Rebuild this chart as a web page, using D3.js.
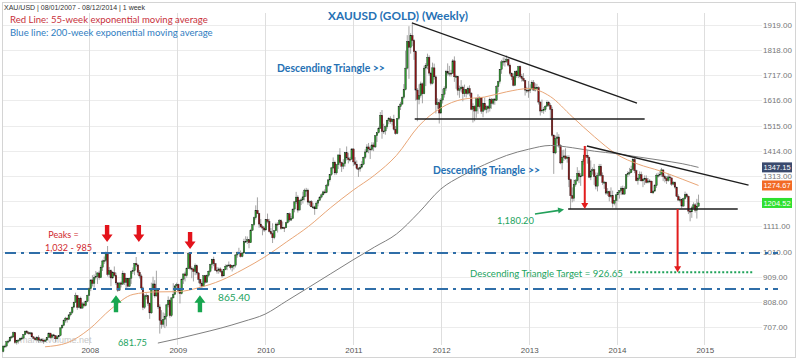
<!DOCTYPE html>
<html><head><meta charset="utf-8">
<script src="https://cdn.jsdelivr.net/npm/d3@7"></script>
<style>body{margin:0;background:#fff}svg{display:block}</style>
</head><body><svg id="c" width="800" height="360"></svg>
<script>
// ---------------- DATA ----------------
const firstWeekStart = "2007-01-08";
const firstOpen = 609;
const close2007=[631,631,648,651,666,668,685,645,652,655,662,663,677,691,685,681,684,668,662,656,665,655,656,655,650,655,666,683,665,676,673,660,668,673,704,714,733,743,738,756,765,787,806,833,786,823,783,800,793,810,834];
const high2007=[633,637,652,657,668,673,689,687,656,658,665,669,679,692,695,690,688,687,670,667,669,674,661,662,657,659,667,685,684,679,680,675,670,675,705,718,738,748,746,758,769,789,809,845,835,825,829,807,809,813,837];
const low2007=[606,624,626,642,649,660,664,640,637,641,650,655,660,675,680,677,675,664,660,652,651,644,645,649,640,647,652,664,660,661,664,648,658,662,670,700,711,725,725,735,750,760,783,805,776,783,780,782,787,790,808];
const close2008=[861,896,882,906,910,924,905,947,972,974,1001,918,933,904,925,914,884,855,884,879,922,886,902,871,903,930,933,962,956,927,912,864,786,832,833,802,764,863,880,832,859,788,734,718,738,750,796,814,753,824,838,872];
const high2008=[866,898,915,918,932,927,933,955,977,990,1010,1032,948,938,932,950,925,888,886,890,933,925,905,903,905,935,946,964,988,960,936,919,869,838,842,836,806,885,909,895,933,862,798,775,766,762,800,830,820,827,883,875];
const low2008=[833,851,870,865,898,880,897,903,932,960,967,910,905,871,900,909,876,848,852,866,876,876,864,866,868,880,920,915,948,915,902,860,775,780,818,792,740,760,857,825,829,780,681,701,708,703,710,786,745,748,822,836];
const close2009=[878,854,841,899,920,913,942,1002,942,940,930,953,924,898,883,871,913,887,914,931,958,979,961,935,933,940,930,912,937,951,954,956,946,953,955,996,1006,1003,990,1004,1049,1051,1057,1045,1095,1118,1145,1175,1162,1120,1109,1104];
const high2009=[885,881,860,902,922,929,946,1007,1005,950,946,962,958,928,900,890,914,916,918,934,961,981,989,964,948,946,946,935,940,958,959,970,960,955,958,1000,1010,1025,1014,1008,1061,1071,1070,1060,1101,1119,1150,1195,1227,1165,1140,1115];
const low2009=[859,842,802,838,880,890,905,940,935,903,890,915,917,883,869,865,868,881,884,907,926,942,951,932,921,921,925,905,912,935,935,951,938,930,938,946,985,1000,986,987,1001,1045,1040,1023,1044,1093,1113,1138,1160,1105,1105,1075];
const close2010=[1096,1138,1131,1090,1082,1065,1093,1120,1118,1134,1102,1106,1105,1125,1161,1136,1142,1180,1209,1228,1176,1214,1217,1229,1256,1256,1208,1210,1189,1189,1181,1204,1215,1228,1237,1249,1246,1275,1297,1318,1345,1368,1325,1358,1397,1367,1352,1362,1406,1385,1378,1380,1421];
const high2010=[1110,1140,1162,1141,1104,1123,1095,1126,1127,1140,1139,1130,1109,1129,1163,1166,1153,1182,1211,1249,1235,1218,1225,1250,1262,1265,1262,1214,1216,1205,1194,1211,1219,1232,1243,1254,1259,1281,1300,1320,1349,1387,1374,1360,1398,1424,1370,1380,1409,1431,1406,1389,1424];
const low2010=[1088,1096,1123,1086,1077,1044,1059,1092,1086,1118,1097,1100,1088,1104,1122,1128,1132,1140,1167,1201,1166,1176,1196,1202,1215,1230,1197,1192,1187,1181,1157,1180,1191,1213,1223,1235,1240,1244,1270,1290,1313,1340,1316,1318,1341,1355,1329,1340,1350,1375,1363,1370,1378];
const close2011=[1369,1360,1343,1341,1348,1360,1388,1409,1429,1421,1418,1437,1429,1474,1486,1504,1556,1491,1493,1510,1536,1542,1530,1540,1500,1483,1543,1591,1601,1628,1659,1745,1852,1828,1876,1856,1811,1657,1620,1635,1682,1642,1745,1755,1788,1725,1684,1746,1710,1598,1606,1565];
const high2011=[1424,1388,1375,1348,1361,1372,1390,1420,1440,1445,1435,1448,1447,1477,1488,1510,1569,1577,1522,1515,1538,1549,1552,1543,1558,1513,1545,1594,1610,1632,1681,1815,1877,1913,1885,1921,1862,1815,1665,1680,1691,1687,1755,1765,1803,1796,1730,1767,1763,1716,1624,1620];
const low2011=[1352,1355,1338,1309,1330,1344,1356,1381,1405,1404,1381,1413,1412,1425,1449,1483,1502,1462,1481,1478,1502,1520,1522,1515,1495,1478,1480,1537,1577,1597,1622,1656,1740,1702,1803,1833,1778,1615,1532,1600,1627,1604,1640,1673,1740,1714,1676,1680,1699,1563,1582,1523];
const close2012=[1617,1640,1664,1732,1725,1725,1724,1774,1710,1712,1656,1662,1669,1642,1659,1643,1663,1645,1580,1592,1573,1622,1590,1627,1572,1604,1579,1590,1584,1619,1604,1621,1616,1671,1691,1740,1770,1773,1772,1780,1757,1724,1711,1676,1731,1714,1751,1711,1704,1696,1657,1657];
const high2012=[1625,1662,1672,1738,1764,1754,1738,1781,1792,1718,1714,1675,1697,1675,1679,1660,1671,1676,1648,1604,1596,1627,1640,1632,1628,1606,1627,1596,1597,1627,1625,1623,1625,1676,1694,1741,1778,1788,1788,1796,1786,1763,1728,1724,1735,1737,1754,1755,1722,1725,1698,1670];
const low2012=[1562,1603,1627,1654,1715,1712,1711,1722,1690,1662,1636,1626,1648,1612,1630,1627,1638,1632,1576,1527,1532,1546,1562,1583,1562,1548,1573,1564,1567,1571,1582,1597,1598,1613,1649,1683,1722,1755,1751,1766,1751,1717,1697,1672,1673,1706,1705,1704,1691,1690,1635,1645];
const close2013=[1656,1662,1687,1657,1667,1667,1609,1573,1577,1578,1592,1608,1596,1580,1476,1405,1463,1469,1434,1365,1387,1393,1383,1388,1298,1234,1223,1278,1294,1323,1310,1313,1372,1395,1396,1387,1308,1333,1338,1310,1272,1315,1352,1315,1287,1288,1244,1250,1230,1235,1203,1214];
const high2013=[1693,1680,1696,1697,1684,1682,1672,1612,1619,1589,1597,1616,1613,1604,1590,1480,1475,1488,1480,1440,1416,1418,1424,1395,1396,1302,1267,1298,1300,1348,1335,1324,1380,1399,1433,1415,1390,1375,1347,1361,1327,1326,1361,1361,1327,1293,1290,1264,1254,1267,1254,1217];
const low2013=[1626,1645,1660,1654,1651,1661,1599,1555,1565,1562,1570,1591,1590,1539,1470,1321,1400,1443,1426,1360,1338,1373,1378,1366,1268,1180,1207,1211,1270,1290,1284,1273,1311,1356,1385,1362,1304,1296,1318,1277,1259,1251,1312,1310,1277,1261,1237,1233,1211,1224,1186,1195];
const close2014=[1237,1247,1254,1264,1240,1262,1318,1323,1326,1339,1379,1334,1294,1303,1318,1293,1300,1302,1287,1293,1292,1245,1252,1274,1316,1316,1320,1337,1310,1303,1294,1309,1305,1280,1287,1268,1231,1216,1218,1192,1222,1238,1231,1172,1169,1185,1197,1175,1191,1204.52];
const high2014=[1240,1249,1256,1272,1274,1271,1320,1332,1345,1354,1385,1392,1338,1309,1331,1330,1305,1315,1315,1305,1300,1294,1255,1280,1323,1326,1332,1345,1338,1318,1312,1322,1320,1306,1292,1291,1270,1239,1228,1222,1226,1250,1245,1234,1176,1193,1207,1204,1221,1238];
const low2014=[1182,1211,1222,1236,1238,1238,1260,1308,1315,1325,1335,1324,1291,1278,1293,1291,1268,1277,1283,1283,1284,1244,1240,1250,1265,1306,1310,1309,1292,1287,1281,1289,1293,1273,1275,1262,1228,1214,1207,1183,1190,1218,1225,1160,1131,1145,1180,1166,1142,1190];

const ema55Dates=["2007-07-01","2007-10-01","2008-01-01","2008-04-01","2008-07-01","2008-10-01","2009-01-01","2009-04-01","2009-07-01","2009-10-01","2010-01-01","2010-04-01","2010-07-01","2010-10-01","2011-01-01","2011-04-01","2011-07-01","2011-10-01","2012-01-01","2012-04-01","2012-07-01","2012-10-01","2013-01-01","2013-04-01","2013-07-01","2013-10-01","2014-01-01","2014-04-01","2014-07-01","2014-10-01","2014-12-08"];
const ema55Values=[628,644,699,780,838,848,849,865,894,938,989,1049,1111,1186,1255,1316,1395,1512,1585,1620,1629,1650,1663,1631,1550,1470,1400,1360,1333,1300,1274.67];
const ema200Dates=["2008-10-12","2009-01-01","2009-04-01","2009-07-01","2009-10-01","2010-01-01","2010-04-01","2010-07-01","2010-10-01","2011-01-01","2011-04-01","2011-07-01","2011-10-01","2012-01-01","2012-04-01","2012-07-01","2012-10-01","2013-01-01","2013-04-01","2013-07-01","2013-10-01","2014-01-01","2014-04-01","2014-07-01","2014-10-01","2014-12-08"];
const ema200Values=[643,660,681,703,729,759,812,866,921,976,1028,1080,1165,1260,1315,1358,1395,1420,1435,1426,1412,1402,1389,1376,1362,1347.15];

const yTickValues=[707,808,909,1010,1111,1212,1313,1414,1515,1616,1717,1818,1919];
const xTickYears=[2008,2009,2010,2011,2012,2013,2014,2015];
const markerValues=[1347.15,1274.67,1204.52];
const markerColors=["#3a4a6e","#f26a25","#2fe02f"];

// annotations (date, price)
const triangle1Top=[["2011-09-03",1926],["2014-03-27",1605]];
const triangle1Base=[["2011-09-15",1541],["2014-04-28",1541]];
const triangle2Top=[["2013-08-31",1433],["2015-07-04",1276]];
const triangle2Base=[["2013-06-14",1180.2],["2015-05-20",1180.2]];
const levelLines=[1004,860];
const targetLine=[["2014-02-27",926.65],["2015-07-26",926.65]];
const peakArrows=[["2008-03-15",1048],["2008-07-25",1048],["2009-02-23",1020]];
const supportArrows=[["2008-04-21",835],["2009-04-05",835]];
const dropArrows=[["2013-08-22",1433,1180.2],["2014-09-12",1180.2,926.65]];
const pointerArrow=[["2013-01-27",1160],["2013-05-28",1178]];

// ---------------- CHART ----------------
const svg=d3.select("#c");
const parse=d3.utcParse("%Y-%m-%d");
const plotL=3, plotR=762, plotT=13, plotB=345;
const x=d3.scaleUtc().domain([Date.UTC(2008,0,1),Date.UTC(2015,0,1)]).range([89.3,704.3]);
const y=d3.scaleLinear().domain([707,1919]).range([327.1,24.7]);

const closes=[].concat(close2007,close2008,close2009,close2010,close2011,close2012,close2013,close2014);
const highs=[].concat(high2007,high2008,high2009,high2010,high2011,high2012,high2013,high2014);
const lows=[].concat(low2007,low2008,low2009,low2010,low2011,low2012,low2013,low2014);
const start=parse(firstWeekStart);
const candles=closes.map((c,i)=>{
  const o=i===0?firstOpen:closes[i-1];
  return {date:d3.utcDay.offset(start,7*i),o,c,h:Math.max(highs[i],o,c),l:Math.min(lows[i],o,c)};
});

// frame
svg.append("rect").attr("x",2.5).attr("y",2.5).attr("width",793).attr("height",355)
  .attr("fill","#fff").attr("stroke","#d4d4d4");

// gridlines
svg.append("g").selectAll("line").data(yTickValues).join("line")
  .attr("x1",plotL).attr("x2",plotR).attr("y1",d=>Math.round(y(d))+0.5).attr("y2",d=>Math.round(y(d))+0.5)
  .attr("stroke","#ececec");
svg.append("g").selectAll("line").data(xTickYears).join("line")
  .attr("x1",d=>Math.round(x(Date.UTC(d,0,1)))+0.5).attr("x2",d=>Math.round(x(Date.UTC(d,0,1)))+0.5)
  .attr("y1",plotT).attr("y2",plotB).attr("stroke","#dedede");

// axis labels (labels hidden under the last-value boxes are not drawn)
const hiddenUnderMarkers=v=>markerValues.some(m=>Math.abs(y(m)-y(v))<5);
svg.append("g").selectAll("text").data(yTickValues.filter(v=>!hiddenUnderMarkers(v))).join("text")
  .attr("x",763).attr("y",d=>y(d)+3).attr("font-family","Liberation Sans, Arial").attr("font-size",8)
  .attr("fill","#777").text(d=>d.toFixed(2));
svg.append("g").selectAll("text").data(xTickYears).join("text")
  .attr("x",d=>x(Date.UTC(d,0,1))+1).attr("y",353).attr("text-anchor","middle")
  .attr("font-family","Liberation Sans, Arial").attr("font-size",8).attr("fill","#555").text(d=>d);

// header
svg.append("text").attr("x",4).attr("y",9.5).attr("font-family","Liberation Sans, Arial")
  .attr("font-size",7).attr("fill","#333").text("XAU/USD | 08/01/2007 - 08/12/2014 | 1 week");

// watermark
svg.append("text").attr("x",20).attr("y",343).attr("font-family","Liberation Sans, Arial")
  .attr("font-size",9).attr("fill","#c8c8c8").text("marketvolume.net");

// candles
const cg=svg.append("g");
cg.selectAll("line").data(candles).join("line")
  .attr("x1",d=>x(d.date)).attr("x2",d=>x(d.date)).attr("y1",d=>y(d.h)).attr("y2",d=>y(d.l))
  .attr("stroke","#9a9a9a").attr("stroke-width",0.9);
cg.selectAll("rect").data(candles).join("rect")
  .attr("x",d=>x(d.date)-0.8).attr("width",1.6)
  .attr("y",d=>y(Math.max(d.o,d.c)))
  .attr("height",d=>Math.max(1,Math.abs(y(d.o)-y(d.c))))
  .attr("fill",d=>d.c>=d.o?"#2e9a2e":"#8e1414")
  .attr("stroke","#1a1a1a").attr("stroke-width",0.35);

// EMAs
const lineGen=d3.line().x(d=>x(d[0])).y(d=>y(d[1])).curve(d3.curveMonotoneX);
svg.append("path").attr("d",lineGen(ema55Dates.map((d,i)=>[parse(d),ema55Values[i]])))
  .attr("fill","none").attr("stroke","#e9a677").attr("stroke-width",1);
svg.append("path").attr("d",lineGen(ema200Dates.map((d,i)=>[parse(d),ema200Values[i]])))
  .attr("fill","none").attr("stroke","#7f7f7f").attr("stroke-width",1);

// level dash-dot lines
svg.append("g").selectAll("line").data(levelLines).join("line")
  .attr("x1",plotL+2).attr("x2",778).attr("y1",d=>y(d)).attr("y2",d=>y(d))
  .attr("stroke","#2f6ea8").attr("stroke-width",2).attr("stroke-dasharray","11,5,3,5");

// triangle lines
const segs=[triangle1Top,triangle1Base,triangle2Top,triangle2Base];
svg.append("g").selectAll("line").data(segs).join("line")
  .attr("x1",d=>x(parse(d[0][0]))).attr("y1",d=>y(d[0][1]))
  .attr("x2",d=>x(parse(d[1][0]))).attr("y2",d=>y(d[1][1]))
  .attr("stroke","#1e1e1e").attr("stroke-width",1.4);

// target dotted line
svg.append("line").attr("x1",x(parse(targetLine[0][0]))).attr("x2",x(parse(targetLine[1][0])))
  .attr("y1",y(targetLine[0][1])).attr("y2",y(targetLine[1][1]))
  .attr("stroke","#1fa35a").attr("stroke-width",2).attr("stroke-dasharray","2,2");

// drop arrows (thin red)
dropArrows.forEach(a=>{
  const ax=x(parse(a[0])), y1=y(a[1]), y2=y(a[2]);
  svg.append("line").attr("x1",ax).attr("x2",ax).attr("y1",y1).attr("y2",y2-5)
    .attr("stroke","#e21d1d").attr("stroke-width",2);
  svg.append("path").attr("d",`M${ax-3.5},${y2-6}L${ax+3.5},${y2-6}L${ax},${y2}Z`).attr("fill","#e21d1d");
});

// pointer arrow (green)
{
  const x1=x(parse(pointerArrow[0][0])), y1=y(pointerArrow[0][1]);
  const x2=x(parse(pointerArrow[1][0])), y2=y(pointerArrow[1][1]);
  const ang=Math.atan2(y2-y1,x2-x1);
  svg.append("line").attr("x1",x1).attr("y1",y1).attr("x2",x2-5*Math.cos(ang)).attr("y2",y2-5*Math.sin(ang))
    .attr("stroke","#22a05a").attr("stroke-width",1.6);
  const hx=x2-6*Math.cos(ang), hy=y2-6*Math.sin(ang);
  svg.append("path").attr("d",`M${x2},${y2}L${hx-3*Math.sin(ang)},${hy+3*Math.cos(ang)}L${hx+3*Math.sin(ang)},${hy-3*Math.cos(ang)}Z`)
    .attr("fill","#22a05a");
}

// fat arrows
function fatArrow(cx,tipY,dir,color){ // dir=1 pointing down, -1 pointing up
  const L=17, sw=2.2, hw=5.5, hl=7.5;
  const base=tipY-dir*L, neck=tipY-dir*hl;
  const p=`M${cx-sw},${base}L${cx+sw},${base}L${cx+sw},${neck}L${cx+hw},${neck}L${cx},${tipY}L${cx-hw},${neck}L${cx-sw},${neck}Z`;
  svg.append("path").attr("d",p).attr("fill",color);
}
peakArrows.forEach(a=>fatArrow(x(parse(a[0])),y(a[1]),1,"#e3131b"));
supportArrows.forEach(a=>fatArrow(x(parse(a[0])),y(a[1]),-1,"#17a64f"));

// value markers
markerValues.forEach((v,i)=>{
  svg.append("rect").attr("x",762).attr("y",y(v)-5).attr("width",30).attr("height",10).attr("fill",markerColors[i]);
  svg.append("text").attr("x",777).attr("y",y(v)+3).attr("text-anchor","middle")
    .attr("font-family","Liberation Sans, Arial").attr("font-size",7.5).attr("fill","#fff").text(v.toFixed(2));
});

// texts
function txt(s,xp,yp,opt){
  const t=svg.append("text").attr("x",xp).attr("y",yp).attr("font-family",opt.font||"Lato, sans-serif")
    .attr("font-size",opt.size||10).attr("font-weight",opt.weight||"normal").attr("fill",opt.color)
    .attr("text-anchor",opt.anchor||"start").text(s);
  if(opt.width){ const w=t.node().getComputedTextLength(); if(w>0) t.attr("font-size",(opt.size||10)*opt.width/w); }
  return t;
}
const BLUE="#2671b4", GREEN="#22a35e", PEAKRED="#d0282e";
txt("XAUUSD (GOLD) (Weekly)",398,19.5,{color:BLUE,weight:"bold",size:13,width:140,anchor:"middle"});
txt("Red Line: 55-week exponential moving average",10,23,{color:"#c8303a",size:10,width:198});
txt("Blue line: 200-week exponential moving average",10,36,{color:"#2f7dbf",size:10,width:203});
txt("Descending Triangle >>",277,72,{color:BLUE,weight:"bold",size:11,width:108});
txt("Descending Triangle >>",433,173.5,{color:BLUE,weight:"bold",size:11,width:107});
const peaksLine2=txt("1,032 - 985",68.5,250.5,{color:PEAKRED,size:10,width:47,anchor:"middle"});
txt("Peaks =",63.5,238,{color:PEAKRED,size:+peaksLine2.attr("font-size"),anchor:"middle"});
txt("865.40",218,301,{color:GREEN,size:11,width:32});
txt("681.75",118,346,{color:GREEN,size:11,width:29});
txt("1,180.20",497,223.5,{color:GREEN,size:11,width:37});
txt("Descending Triangle Target = 926.65",470,276.5,{color:GREEN,size:10,width:153});
</script></body></html>
